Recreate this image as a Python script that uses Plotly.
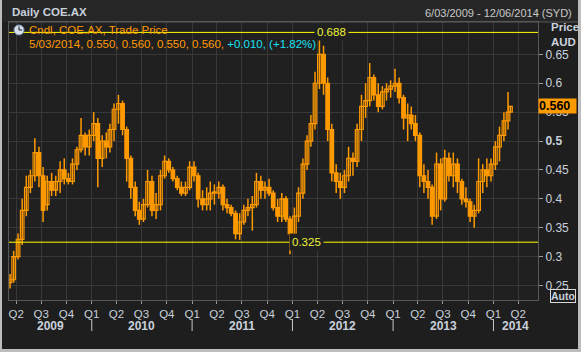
import plotly.graph_objects as go
import pandas as pd

# ---------------- data (semi-monthly OHLC) ----------------
opens_2009 = [0.255, 0.26, 0.30, 0.33, 0.38, 0.42, 0.44, 0.48, 0.44, 0.39, 0.43, 0.415, 0.43, 0.45, 0.435, 0.43, 0.46, 0.485, 0.51, 0.49]
highs_2009 = [0.27, 0.31, 0.34, 0.40, 0.44, 0.45, 0.505, 0.49, 0.455, 0.44, 0.445, 0.44, 0.465, 0.47, 0.445, 0.47, 0.49, 0.54, 0.515, 0.52]
lows_2009 = [0.245, 0.255, 0.295, 0.32, 0.37, 0.41, 0.43, 0.42, 0.36, 0.38, 0.405, 0.405, 0.41, 0.425, 0.425, 0.425, 0.45, 0.48, 0.475, 0.475]
closes_2009 = [0.26, 0.30, 0.33, 0.38, 0.42, 0.44, 0.48, 0.44, 0.38, 0.43, 0.415, 0.43, 0.45, 0.435, 0.43, 0.46, 0.485, 0.51, 0.49, 0.51]

opens_2010 = [0.51, 0.53, 0.47, 0.50, 0.49, 0.52, 0.555, 0.565, 0.52, 0.47, 0.42, 0.38, 0.365, 0.39, 0.43, 0.38, 0.39, 0.44, 0.465, 0.45, 0.435, 0.42, 0.41, 0.42]
highs_2010 = [0.55, 0.54, 0.51, 0.515, 0.53, 0.565, 0.58, 0.57, 0.525, 0.475, 0.43, 0.395, 0.40, 0.45, 0.44, 0.41, 0.45, 0.475, 0.47, 0.455, 0.44, 0.43, 0.43, 0.465]
lows_2010 = [0.50, 0.42, 0.455, 0.47, 0.48, 0.50, 0.53, 0.51, 0.43, 0.40, 0.37, 0.355, 0.36, 0.385, 0.37, 0.365, 0.38, 0.435, 0.445, 0.43, 0.415, 0.405, 0.405, 0.415]
closes_2010 = [0.53, 0.47, 0.50, 0.49, 0.52, 0.555, 0.565, 0.52, 0.47, 0.42, 0.38, 0.365, 0.39, 0.43, 0.38, 0.39, 0.44, 0.465, 0.45, 0.435, 0.42, 0.41, 0.42, 0.455]

opens_2011 = [0.455, 0.44, 0.40, 0.39, 0.40, 0.41, 0.41, 0.42, 0.39, 0.385, 0.375, 0.34, 0.36, 0.38, 0.385, 0.39, 0.43, 0.415, 0.42, 0.41, 0.385, 0.37, 0.40, 0.365]
highs_2011 = [0.465, 0.445, 0.415, 0.42, 0.43, 0.425, 0.43, 0.425, 0.40, 0.39, 0.38, 0.375, 0.39, 0.40, 0.405, 0.445, 0.44, 0.43, 0.435, 0.415, 0.40, 0.41, 0.405, 0.37]
lows_2011 = [0.43, 0.385, 0.38, 0.38, 0.38, 0.39, 0.40, 0.38, 0.375, 0.37, 0.33, 0.329, 0.355, 0.37, 0.345, 0.385, 0.40, 0.40, 0.405, 0.38, 0.36, 0.36, 0.36, 0.304]
closes_2011 = [0.44, 0.40, 0.39, 0.40, 0.41, 0.41, 0.42, 0.39, 0.385, 0.375, 0.34, 0.36, 0.38, 0.385, 0.39, 0.43, 0.415, 0.42, 0.41, 0.385, 0.37, 0.40, 0.365, 0.34]

opens_2012 = [0.34, 0.37, 0.41, 0.46, 0.50, 0.53, 0.60, 0.65, 0.60, 0.52, 0.445, 0.43, 0.42, 0.44, 0.47, 0.465, 0.52, 0.56, 0.57, 0.61, 0.58, 0.56, 0.585, 0.59]
highs_2012 = [0.385, 0.42, 0.47, 0.51, 0.545, 0.62, 0.688, 0.665, 0.61, 0.53, 0.46, 0.445, 0.45, 0.49, 0.48, 0.53, 0.58, 0.60, 0.635, 0.615, 0.60, 0.595, 0.60, 0.605]
lows_2012 = [0.335, 0.36, 0.40, 0.45, 0.49, 0.52, 0.59, 0.58, 0.50, 0.43, 0.41, 0.40, 0.41, 0.43, 0.44, 0.455, 0.50, 0.54, 0.56, 0.57, 0.55, 0.555, 0.57, 0.575]
closes_2012 = [0.37, 0.41, 0.46, 0.50, 0.53, 0.60, 0.65, 0.60, 0.52, 0.445, 0.43, 0.42, 0.44, 0.47, 0.465, 0.52, 0.56, 0.57, 0.61, 0.58, 0.56, 0.585, 0.59, 0.595]

opens_2013 = [0.595, 0.60, 0.575, 0.54, 0.545, 0.53, 0.51, 0.44, 0.43, 0.42, 0.37, 0.46, 0.40, 0.47, 0.44, 0.46, 0.43, 0.40, 0.395, 0.37, 0.38, 0.43, 0.45, 0.44]
highs_2013 = [0.625, 0.61, 0.58, 0.565, 0.56, 0.545, 0.515, 0.46, 0.45, 0.425, 0.48, 0.47, 0.485, 0.48, 0.48, 0.47, 0.435, 0.42, 0.40, 0.39, 0.47, 0.46, 0.47, 0.47]
lows_2013 = [0.585, 0.565, 0.52, 0.50, 0.52, 0.50, 0.42, 0.41, 0.40, 0.355, 0.365, 0.38, 0.395, 0.43, 0.42, 0.41, 0.39, 0.385, 0.36, 0.35, 0.375, 0.41, 0.42, 0.43]
closes_2013 = [0.60, 0.575, 0.54, 0.545, 0.53, 0.51, 0.44, 0.43, 0.42, 0.37, 0.46, 0.40, 0.47, 0.44, 0.46, 0.43, 0.40, 0.395, 0.37, 0.38, 0.43, 0.45, 0.44, 0.46]

opens_2014 = [0.46, 0.49, 0.51, 0.535, 0.55]
highs_2014 = [0.50, 0.525, 0.55, 0.585, 0.56]
lows_2014 = [0.45, 0.465, 0.50, 0.52, 0.55]
closes_2014 = [0.49, 0.51, 0.535, 0.55, 0.56]

dates_2009 = ["2009-03-10", "2009-03-23"] + [f"2009-{m:02d}-{d}" for m in range(4, 13) for d in ("08", "23")]
dates_2010 = [f"2010-{m:02d}-{d}" for m in range(1, 13) for d in ("08", "23")]
dates_2011 = [f"2011-{m:02d}-{d}" for m in range(1, 13) for d in ("08", "23")]
dates_2012 = [f"2012-{m:02d}-{d}" for m in range(1, 13) for d in ("08", "23")]
dates_2013 = [f"2013-{m:02d}-{d}" for m in range(1, 13) for d in ("08", "23")]
dates_2014 = ["2014-01-08", "2014-01-23", "2014-02-08", "2014-02-23", "2014-03-04"]

last_label_date = "5/03/2014"
high_line = 0.688
low_line = 0.325
y_ticks = [0.25, 0.3, 0.35, 0.4, 0.45, 0.5, 0.55, 0.6, 0.65]
y_ticktext = ["0.25", "0.3", "0.35", "0.4", "0.45", "<b>0.5</b>", "0.55", "0.6", "0.65"]
quarter_ticks = pd.date_range("2009-04-01", "2014-04-01", freq="QS")
quarter_text = [f"Q{d.quarter}" for d in quarter_ticks]
years = [2009, 2010, 2011, 2012, 2013, 2014]
x_start, x_end = "2009-03-06", "2014-06-12"

dates = dates_2009 + dates_2010 + dates_2011 + dates_2012 + dates_2013 + dates_2014
opens = opens_2009 + opens_2010 + opens_2011 + opens_2012 + opens_2013 + opens_2014
highs = highs_2009 + highs_2010 + highs_2011 + highs_2012 + highs_2013 + highs_2014
lows = lows_2009 + lows_2010 + lows_2011 + lows_2012 + lows_2013 + lows_2014
closes = closes_2009 + closes_2010 + closes_2011 + closes_2012 + closes_2013 + closes_2014

# ---------------- styling ----------------
ORANGE = "#ff9a00"
PLOT_BG = "#202020"
PAPER_BG = "#1e1e1e"
GRID = "#383838"
TXT = "#c9d1dc"
YEL = "#ffff00"
FONT = "Liberation Sans"
BODY_MS = 13 * 24 * 3600 * 1000

fig = go.Figure()

# wicks (high-low)
wx, wy = [], []
for d, h, l in zip(dates, highs, lows):
    wx += [d, d, None]
    wy += [l, h, None]
fig.add_trace(go.Scatter(x=wx, y=wy, mode="lines", line=dict(color=ORANGE, width=1.5),
                         showlegend=False, hoverinfo="skip"))

# bodies
up = [i for i in range(len(dates)) if closes[i] >= opens[i]]
dn = [i for i in range(len(dates)) if closes[i] < opens[i]]
for idx, fill in ((up, PLOT_BG), (dn, ORANGE)):
    base = [min(opens[i], closes[i]) for i in idx]
    hgt = [max(abs(closes[i] - opens[i]), 0.002) for i in idx]
    fig.add_trace(go.Bar(x=[dates[i] for i in idx], y=hgt, base=base, width=BODY_MS,
                         marker=dict(color=fill, line=dict(color=ORANGE, width=1.2)),
                         showlegend=False, hoverinfo="skip"))

L, R, T, B = 9, 43, 22, 52
W, H = 581, 352
PW, PH = W - L - R, H - T - B


def px(x):
    return (x - L) / PW


def py(y):
    return (H - B - y) / PH


shapes = []
annotations = []


def note(**kw):
    kw.setdefault("showarrow", False)
    kw.setdefault("yanchor", "middle")
    annotations.append(kw)


# header strip and window border
shapes.append(dict(type="rect", xref="paper", yref="paper", x0=px(0), x1=px(W), y0=py(22), y1=py(0),
                   fillcolor="#262626", line_width=0, layer="below"))
for (x0, x1, y0, y1) in [(0, 2, 0, H), (W - 3, W, 0, H), (0, W, H - 3, H)]:
    shapes.append(dict(type="rect", xref="paper", yref="paper", x0=px(x0), x1=px(x1), y0=py(y1), y1=py(y0),
                       fillcolor="#bdbdbd", line_width=0))
shapes.append(dict(type="line", xref="paper", yref="paper", x0=px(8), x1=px(W - 3), y0=1, y1=1,
                   line=dict(color="#585858", width=1)))

# high / low reference lines
for val in (high_line, low_line):
    shapes.append(dict(type="line", xref="paper", yref="y", x0=0, x1=1, y0=val, y1=val,
                       line=dict(color=YEL, width=1)))
note(xref="paper", yref="y", x=px(331), y=high_line, text=f"{high_line:.3f}",
     font=dict(family=FONT, size=11.5, color="#eef23a"), bgcolor=PLOT_BG, borderpad=2)
note(xref="paper", yref="y", x=px(306), y=low_line, text=f"{low_line:.3f}",
     font=dict(family=FONT, size=11.5, color="#eef23a"), bgcolor=PLOT_BG, borderpad=2)

# year separators and labels
xs = pd.Timestamp(x_start)
xe = pd.Timestamp(x_end)
for yr in years:
    a = max(pd.Timestamp(f"{yr}-01-01"), xs)
    b = min(pd.Timestamp(f"{yr + 1}-01-01"), xe)
    mid = a + (b - a) / 2
    note(xref="x", yref="paper", x=mid, y=py(325.5), text=f"<b>{yr}</b>",
         font=dict(family=FONT, size=12, color=TXT))
    if yr > years[0]:
        shapes.append(dict(type="line", xref="x", yref="paper", x0=f"{yr}-01-01", x1=f"{yr}-01-01",
                           y0=py(319), y1=py(331), line=dict(color="#c8c8c8", width=1)))

# last price box
last_close = closes[-1]
note(xref="paper", yref="y", x=1.0, y=last_close, xanchor="left",
     text=f"<b>{last_close:.3f}</b>", width=37, align="left",
     font=dict(family=FONT, size=12.5, color="#000000"), bgcolor=ORANGE, borderpad=0)

# axis title
note(xref="paper", yref="paper", x=px(549), y=py(27), xanchor="left", text="<b>Price</b>",
     font=dict(family=FONT, size=11.5, color=TXT))
note(xref="paper", yref="paper", x=px(549), y=py(41.5), xanchor="left", text="<b>AUD</b>",
     font=dict(family=FONT, size=11.5, color=TXT))
# Auto box
note(xref="paper", yref="paper", x=px(576), y=py(296), xanchor="right", text="<b>Auto</b>",
     font=dict(family=FONT, size=10.5, color=TXT),
     bordercolor="#d8d8d8", borderwidth=1, borderpad=0, bgcolor=PAPER_BG)

# titles
note(xref="paper", yref="paper", x=px(10), y=py(12), xanchor="left", text="<b>Daily COE.AX</b>",
     font=dict(family=FONT, size=11.5, color=TXT))
note(xref="paper", yref="paper", x=px(574), y=py(13), xanchor="right",
     text="6/03/2009 - 12/06/2014 (SYD)", font=dict(family=FONT, size=11, color="#c8c8c8"))

# legend text
prev_close = closes[-2]
chg = last_close - prev_close
pct = chg / prev_close * 100
note(xref="paper", yref="paper", x=px(27), y=py(30), xanchor="left",
     text="Cndl, COE.AX, Trade Price", font=dict(family=FONT, size=11.5, color=ORANGE))
line2 = (f"{last_label_date}, {opens[-1]:.3f}, {highs[-1]:.3f}, {lows[-1]:.3f}, {closes[-1]:.3f}, "
         f"<span style='color:#19e0f0'>{chg:+.3f}, ({pct:+.2f}%)</span>")
note(xref="paper", yref="paper", x=px(27), y=py(44), xanchor="left",
     text=line2, font=dict(family=FONT, size=11.5, color=ORANGE))
# clock icon
shapes.append(dict(type="circle", xref="paper", yref="paper", x0=px(14), x1=px(24), y0=py(35), y1=py(25),
                   fillcolor="#d6dfec", line=dict(color="#7a8fb0", width=1)))
shapes.append(dict(type="line", xref="paper", yref="paper", x0=px(19), x1=px(19), y0=py(30), y1=py(26.5),
                   line=dict(color="#111111", width=1)))
shapes.append(dict(type="line", xref="paper", yref="paper", x0=px(19), x1=px(22), y0=py(30), y1=py(30),
                   line=dict(color="#111111", width=1)))

fig.update_layout(
    width=W, height=H,
    margin=dict(l=L, r=R, t=T, b=B, pad=0),
    paper_bgcolor=PAPER_BG, plot_bgcolor=PLOT_BG,
    shapes=shapes, annotations=annotations, barmode="overlay",
    xaxis=dict(type="date", range=[x_start, x_end],
               tickvals=quarter_ticks, ticktext=quarter_text, ticks="outside", ticklen=3,
               tickcolor="#9a9a9a", tickfont=dict(family=FONT, size=11.5, color=TXT),
               showgrid=True, gridcolor=GRID, gridwidth=1, zeroline=False,
               showline=True, linecolor="#585858", mirror=True),
    yaxis=dict(side="right", range=[0.225, 0.706], tickvals=y_ticks, ticktext=y_ticktext,
               ticks="outside", ticklen=4, tickcolor="#9a9a9a",
               tickfont=dict(family=FONT, size=12, color=TXT),
               showgrid=True, gridcolor=GRID, gridwidth=1, zeroline=False,
               showline=True, linecolor="#585858", mirror=True),
    font=dict(family=FONT),
)

fig.write_html("out.html")
